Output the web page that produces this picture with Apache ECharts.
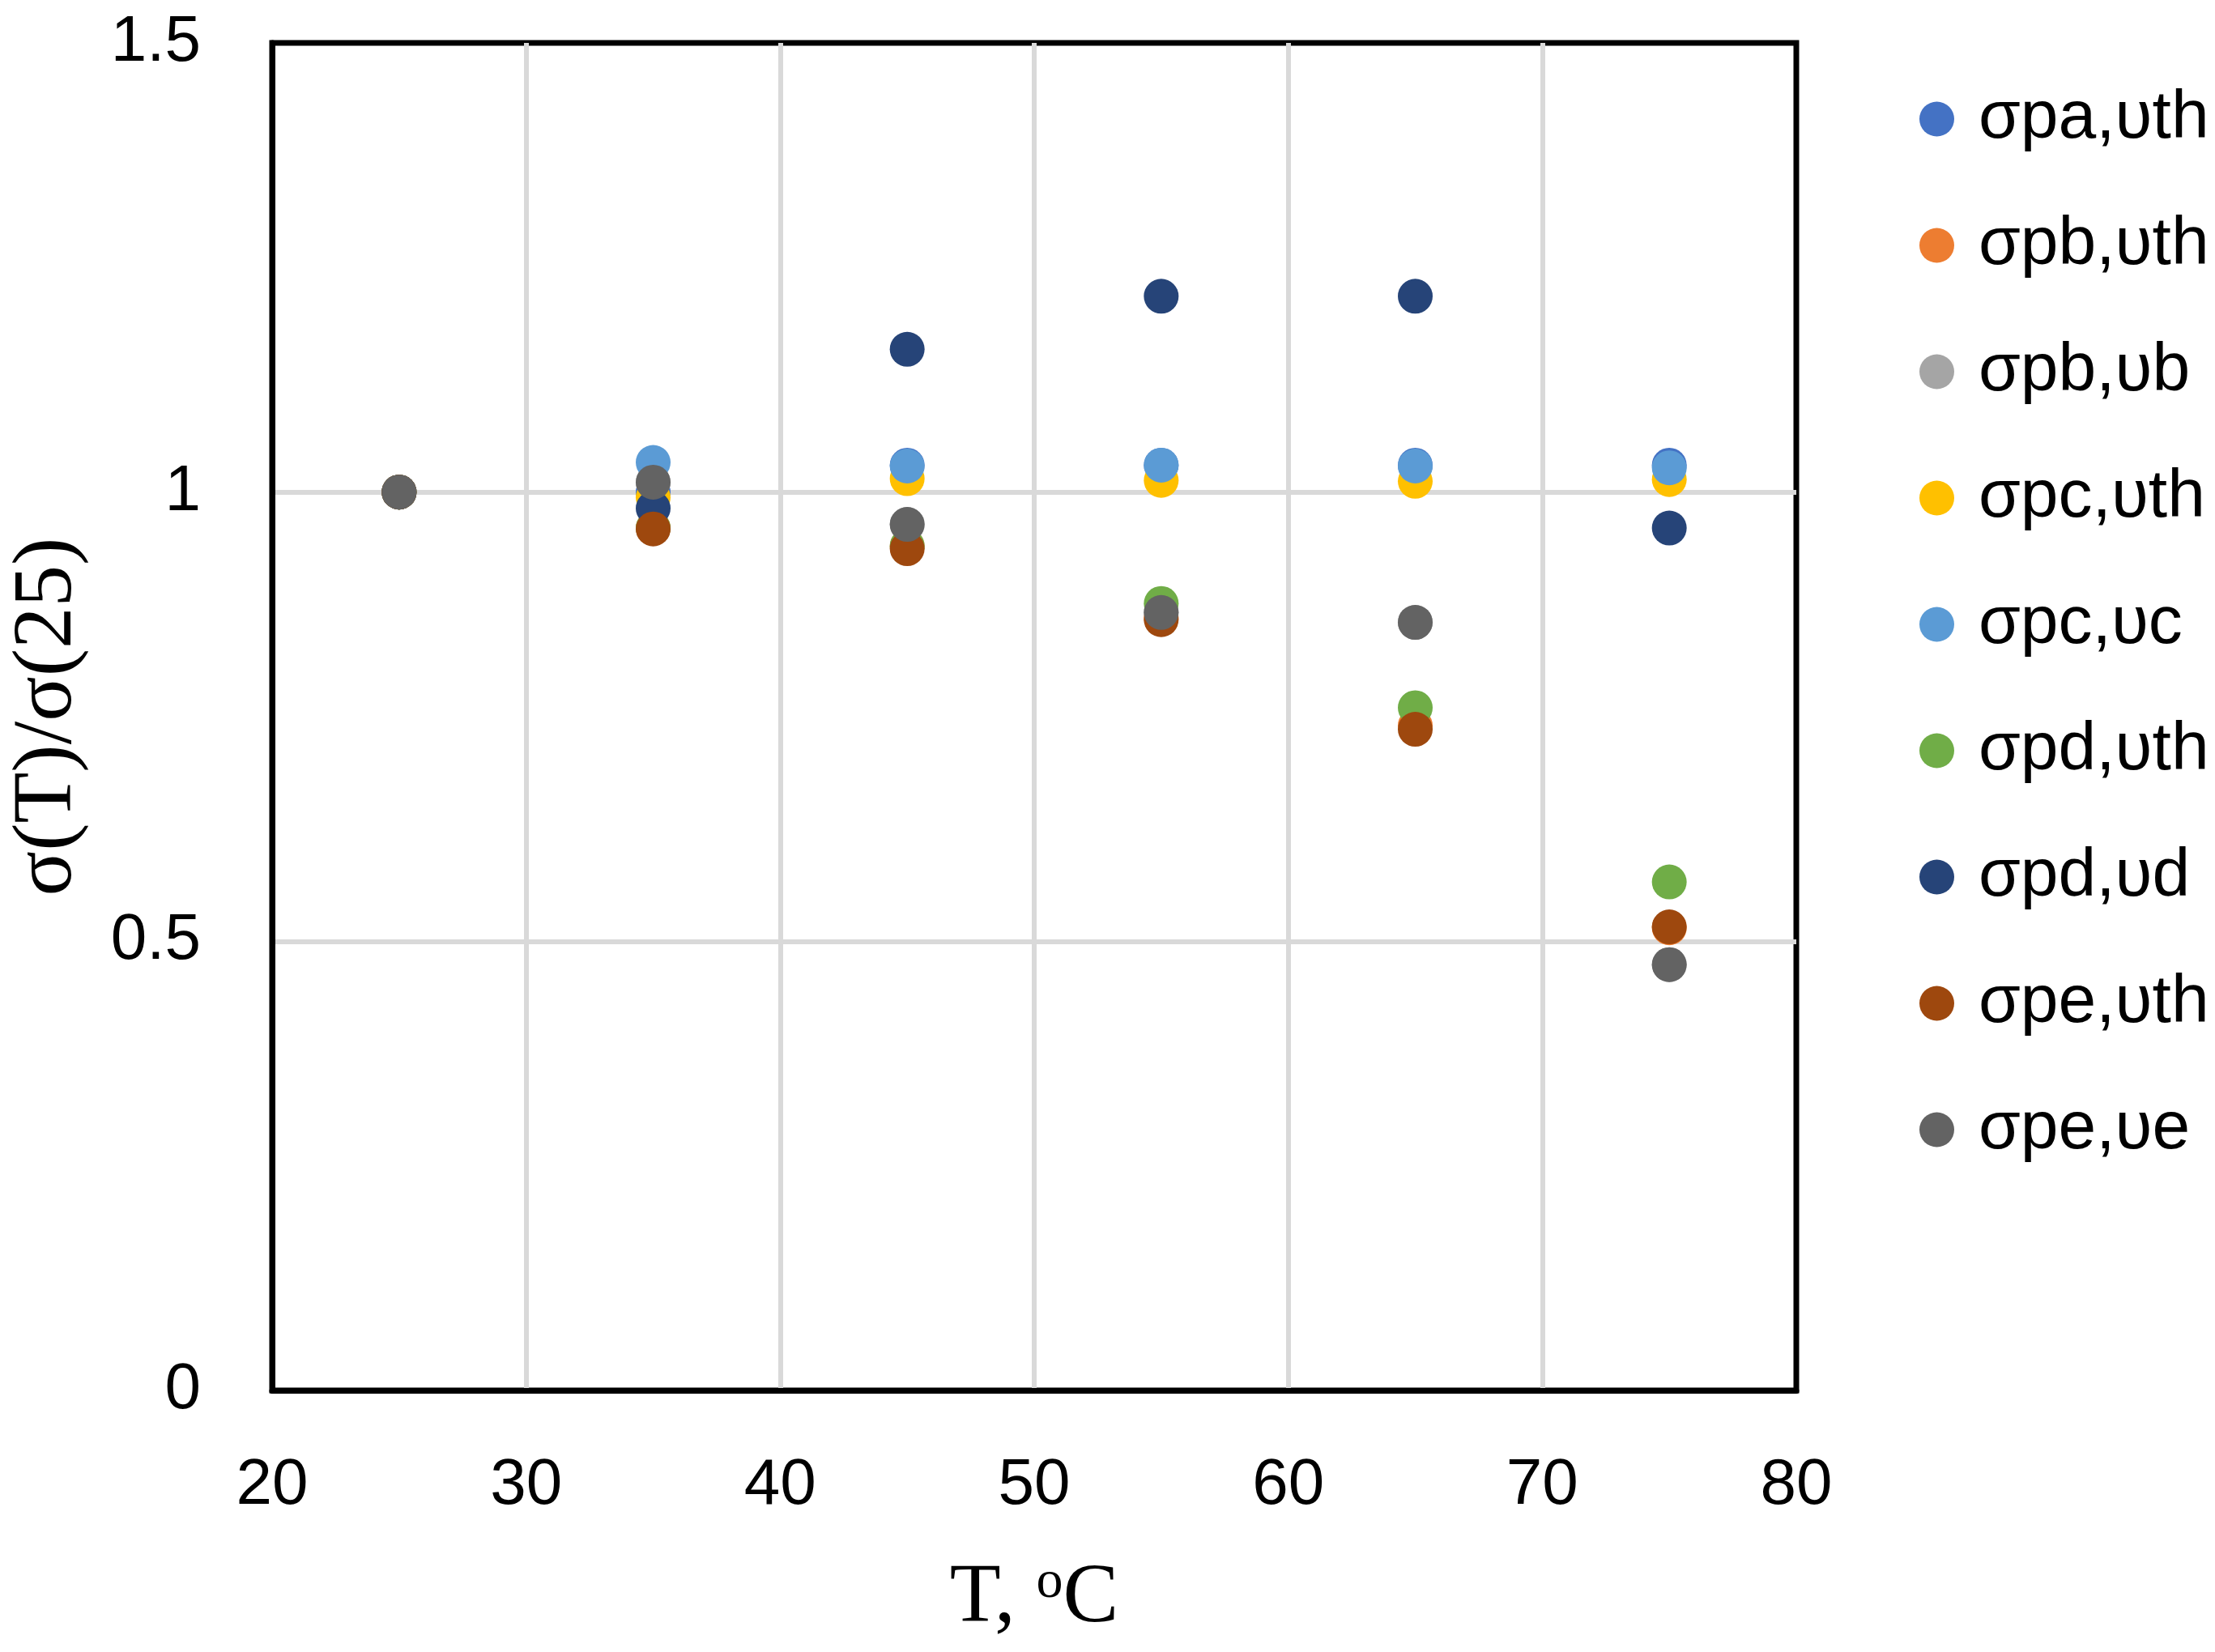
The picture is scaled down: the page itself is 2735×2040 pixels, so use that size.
<!DOCTYPE html>
<html>
<head>
<meta charset="utf-8">
<script src="https://cdn.jsdelivr.net/npm/echarts@6/dist/echarts.min.js"></script>
<style>
  html, body { margin: 0; padding: 0; background: #fff; }
  #chart { width: 2735px; height: 2040px; }
</style>
</head>
<body>
<div id="chart"></div>
<script>
// temperatures, °C
const temps = [25, 35, 45, 55, 65, 75]

// σ(T)/σ(25) per series (hidden ones sit under later markers)
const paUth = [1, 1.0, 1.03, 1.03, 1.03, 1.03]
const pbUth = [1, 0.96, 0.94, 0.86, 0.74, 0.515]
const pbUb = [1, 1.011, 0.964, 0.866, 0.855, 0.474]
const pcUth = [1, 0.994, 1.015, 1.013, 1.012, 1.014]
const pcUc = [1, 1.033, 1.029, 1.030, 1.029, 1.027]
const pdUth = [1, 0.96, 0.94, 0.876, 0.760, 0.566]
const pdUd = [1, 0.982, 1.159, 1.218, 1.218, 0.960]
const peUth = [1, 0.959, 0.937, 0.858, 0.736, 0.516]
const peUe = [1, 1.011, 0.964, 0.866, 0.855, 0.474]

const seriesNames = ['σpa,υth', 'σpb,υth', 'σpb,υb', 'σpc,υth', 'σpc,υc', 'σpd,υth', 'σpd,υd', 'σpe,υth', 'σpe,υe']
const seriesValues = [paUth, pbUth, pbUb, pcUth, pcUc, pdUth, pdUd, peUth, peUe]
const colors = ['#4472C4', '#ED7D31', '#A5A5A5', '#FFC000', '#5B9BD5', '#70AD47', '#264478', '#9E480E', '#636363']

const chart = echarts.init(document.getElementById('chart'))

const series = seriesNames.map((name, i) => ({
  name,
  type: 'scatter',
  symbol: 'circle',
  symbolSize: 43,
  itemStyle: { color: colors[i], opacity: 1 },
  data: temps.map((t, j) => [t, seriesValues[i][j]])
}))

// gray grid lines, but not on the frame edges (frame is drawn black)
const gridLine = { showMinLine: false, showMaxLine: false, lineStyle: { color: '#d9d9d9', width: 6 } }

const option = {
  backgroundColor: '#fff',
  animation: false,
  color: colors,
  grid: {
    left: 335, top: 53, width: 1883, height: 1664,
    show: true, borderColor: '#000', borderWidth: 7
  },
  legend: {
    orient: 'vertical',
    left: 2365,
    top: 100,
    icon: 'circle',
    itemWidth: 43,
    itemHeight: 43,
    itemGap: 72,
    data: seriesNames,
    textStyle: {
      fontFamily: 'Liberation Sans',
      fontSize: 84,
      lineHeight: 84,
      color: '#000',
      padding: [0, 0, 0, 25]
    }
  },
  xAxis: {
    type: 'value',
    min: 20, max: 80, interval: 10,
    name: 'T, {s|o}C',
    nameLocation: 'middle',
    nameGap: 205,
    nameTextStyle: {
      fontFamily: 'Liberation Serif', fontSize: 103, color: '#000',
      rich: { s: { fontFamily: 'Liberation Serif', fontSize: 66, color: '#000', padding: [0, 0, 40, 0] } }
    },
    axisLine: { show: true, lineStyle: { color: '#000', width: 7 } },
    axisTick: { show: false },
    axisLabel: { fontFamily: 'Liberation Sans', fontSize: 80, color: '#000', margin: 78 },
    splitLine: gridLine
  },
  yAxis: {
    type: 'value',
    min: 0, max: 1.5, interval: 0.5,
    name: 'σ(T)/σ(25)',
    nameLocation: 'middle',
    nameGap: 225,
    nameTextStyle: { fontFamily: 'Liberation Serif', fontSize: 103, color: '#000' },
    axisLine: { show: true, lineStyle: { color: '#000', width: 7 } },
    axisTick: { show: false },
    axisLabel: { fontFamily: 'Liberation Sans', fontSize: 80, color: '#000', margin: 88 },
    splitLine: gridLine
  },
  series
}

chart.setOption(option)
</script>
</body>
</html>
